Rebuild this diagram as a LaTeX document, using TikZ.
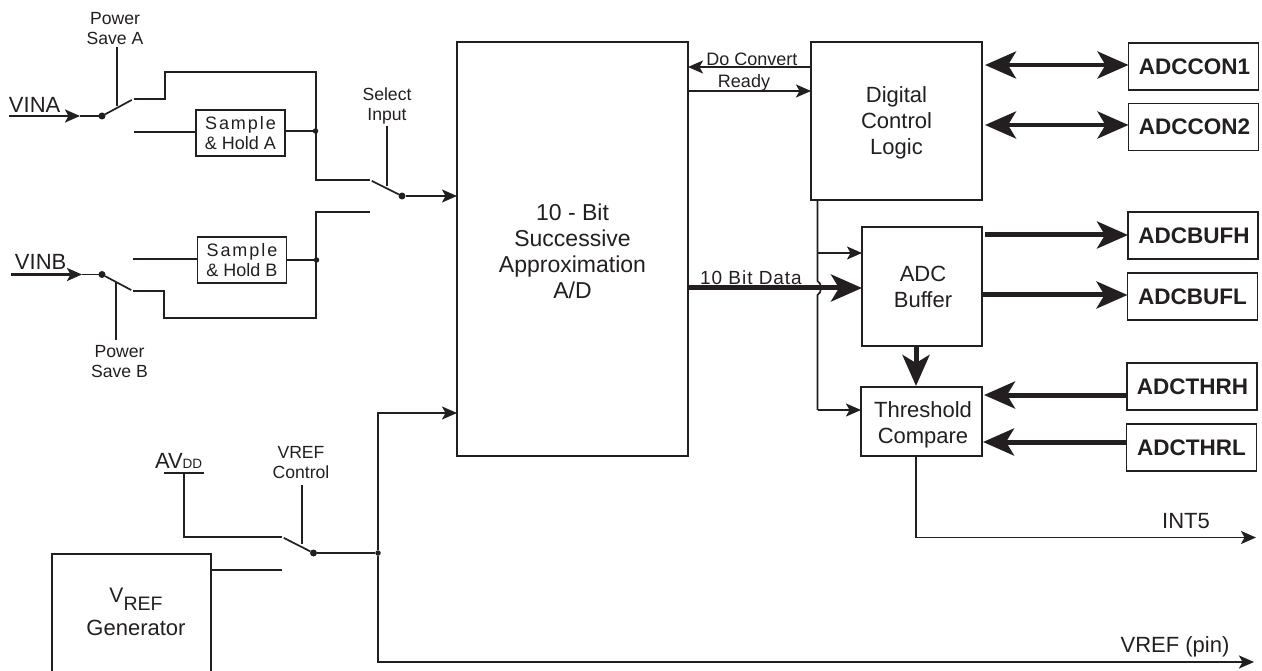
\documentclass[tikz,border=0pt]{standalone}
\usepackage{fontspec}
\setmainfont{Liberation Sans}
\newfontfamily\spacedfont[LetterSpace=11]{Liberation Sans}
\newfontfamily\dataspaced[LetterSpace=5]{Liberation Sans}
\usetikzlibrary{arrows.meta}
\definecolor{ink}{HTML}{231F20}
\newcommand{\fs}[2]{\fontsize{#1}{#2}\selectfont}
\tikzset{
  x=1pt,y=-1pt,
  every node/.style={text=ink,inner sep=0pt,outer sep=0pt},
  wire/.style={draw=ink,line width=1.7pt,line cap=butt,line join=miter},
  sig/.style={wire,-{Stealth[length=15pt,width=13pt,inset=3.5pt]}},
  bus/.style={draw=ink,line width=5pt,-{Stealth[length=31pt,width=27pt,inset=8pt]}},
  dbus/.style={draw=ink,line width=4.5pt,{Stealth[length=31pt,width=27pt,inset=8pt]}-{Stealth[length=31pt,width=27pt,inset=8pt]}},
  block/.style={draw=ink,line width=1.7pt,fill=white,align=center,font=\fs{22}{26}},
  reg/.style={block,font=\fs{22.5}{26}\bfseries,minimum width=130pt,minimum height=47pt},
  sh/.style={block,minimum width=89pt,minimum height=46pt,font=\fs{18}{20}},
  lab/.style={align=center,font=\fs{17.6}{20}},
  jn/.style={circle,fill=ink,draw=none,minimum size=#1},
  jn/.default=7pt
}
\begin{document}
\begin{tikzpicture}
\useasboundingbox (0,0) rectangle (1262,671);
% blocks
\node[block,minimum width=231pt,minimum height=414pt,font=\fs{23}{26}] (main) at (572.5,249) {\rule{0pt}{22pt}10 - Bit\\Successive\\Approximation\\A/D};
\node[block,minimum width=171pt,minimum height=158pt] (dig) at (896.5,121) {\rule{0pt}{20pt}Digital\\Control\\Logic};
\node[block,minimum width=120pt,minimum height=119pt] (buf) at (922,286.5) {\hspace*{2pt}ADC\\\hspace*{2pt}Buffer};
\node[block,minimum width=121pt,minimum height=69pt] (thr) at (921.5,421.5) {\rule{0pt}{22pt}\hspace*{3pt}Threshold\\\hspace*{3pt}Compare};
\node[reg] (con1) at (1193.5,66.5) {\hspace*{2pt}ADCCON1};
\node[reg] (con2) at (1193.5,127) {\hspace*{2pt}ADCCON2};
\node[reg] (bufh) at (1193,235.5) {\hspace*{2pt}ADCBUFH};
\node[reg] (bufl) at (1192.5,296.5) {ADCBUFL};
\node[reg] (thrh) at (1192,386.5) {\hspace*{1pt}ADCTHRH};
\node[reg] (thrl) at (1191.5,447.5) {ADCTHRL};
\node[sh] (sha) at (240.5,133) {{\spacedfont Sample}\\\& Hold A};
\node[sh] (shb) at (242,260) {{\spacedfont Sample}\\\& Hold B};
\draw[wire] (52,680) |- (211,554) -- (211,680);
\node[font=\fs{22}{26}] (genb) at (136,635) [anchor=base] {Generator};
\node[anchor=base] (genv) at (136,602) {\fs{21}{26}V\raisebox{-8pt}{\fs{19.5}{26}REF}};
\coordinate (gen) at (211,570);
% labels
\node[font=\fs{22}{26},anchor=base west] (vina) at (9,113) {VINA};
\node[font=\fs{22}{26},anchor=base west] (vinb) at (15,270) {VINB};
\node[lab] (psa) at (115,29) {Power\\Save A};
\node[lab] (psb) at (119.5,362) {Power\\Save B};
\node[lab] (sel) at (387,105.5) {Select\\Input};
\node[lab] (vctl) at (301,463) {VREF\\Control};
\node[anchor=base west] (avdd) at (155,468) {\fs{22}{26}AV\fs{13.5}{26}DD};
\node[font=\fs{18}{20}] (doc) at (752,59) {Do Convert};
\node[font=\fs{18}{20}] (rdy) at (744,83) {Ready};
\node[anchor=base] (tbd) at (751,285) {\fs{19}{20}\dataspaced 10 Bit Data};
\node[font=\fs{22}{26},anchor=base] (int5) at (1186,528) {INT5};
\node[font=\fs{22}{26},anchor=base] (vpin) at (1175,652.7) {VREF (pin)};
% coordinates
\coordinate (ina0) at (9,116); \coordinate (inb0) at (11,274.5);
\node[jn] (da) at (102,116) {};
\node[jn] (db) at (102,274.5) {};
\node[jn] (ds) at (402,196) {};
\node[jn] (dv) at (313.5,553) {};
\node[jn=5.5pt] (ja) at (315.5,131) {};
\node[jn=5.5pt] (jb) at (316.5,260) {};
\node[jn=5.5pt] (jv) at (378,553) {};
\coordinate (ta1) at (133.5,99); \coordinate (ta2) at (134,132);
\coordinate (tb1) at (133,259); \coordinate (tb2) at (133,291);
\coordinate (ts1) at (370,180); \coordinate (ts2) at (370,212);
\coordinate (tv1) at (282,537); \coordinate (tv2) at (282,570);
\coordinate (ctlA) at (117,47); \coordinate (armA) at (117,106);
\coordinate (ctlB) at (116,340); \coordinate (armB) at (116,282);
\coordinate (ctlS) at (387,126); \coordinate (armS) at (387,186);
\coordinate (ctlV) at (302,485); \coordinate (armV) at (302,544);
\coordinate (avtop) at (184,473);
\coordinate (ctlout) at (817.5,200);
% input side
\draw[sig,line width=2.2pt] (ina0) -- ++(71,0);
\draw[wire] (80,116) -- (da);
\draw[sig,line width=2.2pt] (inb0) -- ++(71,0);
\draw[wire] (82,274.5) -- (db);
\draw[wire,shorten <=2pt] (ta1) -- (da);
\draw[wire,shorten <=2pt] (tb2) -- (db);
\draw[wire] (ctlA) -- (armA);
\draw[wire] (ctlB) -- (armB);
\draw[wire] (ta1) -- (165,99) -- (165,72) -- (316,72) -- (316,180) -- (ts1);
\draw[wire] (ta2) -- (ta2 -| sha.west);
\draw[wire] (sha.east |- ja) -- (ja);
\draw[wire] (tb1) -- (tb1 -| shb.west);
\draw[wire] (shb.east |- jb) -- (jb);
\draw[wire] (tb2) -- (164,291) -- (164,318) -- (316,318) -- (316,212) -- (ts2);
% select switch
\draw[wire,shorten <=2pt] (ts1) -- (ds);
\draw[wire] (ctlS) -- (armS);
\draw[sig] (ds) -- (ds -| main.west);
% vref
\draw[wire] (164,473) -- (204,473);
\draw[wire] (avtop) |- (tv1);
\draw[wire] (gen) -- (tv2);
\draw[wire,shorten <=2pt] (tv1) -- (dv);
\draw[wire] (ctlV) -- (armV);
\draw[wire] (dv) -- (jv);
\coordinate (vrt) at (378,413);
\draw[sig] (jv) -- (vrt) -- (vrt -| main.west);
\coordinate (vend) at (1254,662);
\draw[sig,line width=2.1pt] (jv) |- (vend);
% control logic
\coordinate (docy) at (0,67); \coordinate (rdyy) at (0,91);
\draw[sig] (dig.west |- docy) -- (main.east |- docy);
\draw[sig] (main.east |- rdyy) -- (dig.west |- rdyy);
\draw[wire] (ctlout) -- (817.5,281) .. controls (822,283) and (822,293) .. (817.5,295) -- (817.5,410);
\coordinate (brb) at (817.5,253);
\draw[sig] (brb) -- (brb -| buf.west);
\coordinate (brt) at (817.5,410);
\draw[sig] (brt) -- (brt -| thr.west);
% buses
\coordinate (dty) at (0,288);
\draw[bus] (main.east |- dty) -- (dty -| buf.west);
\draw[bus,shorten >=1pt] (buf.south -| 916,0) -- (thr.north -| 916,0);
\coordinate (y1) at (0,65); \coordinate (y2) at (0,125);
\draw[dbus,shorten <=3pt] (dig.east |- y1) -- (y1 -| con1.west);
\draw[dbus,shorten <=3pt] (dig.east |- y2) -- (y2 -| con2.west);
\coordinate (y3) at (0,235); \coordinate (y4) at (0,295);
\draw[bus] (985,235) -- (y3 -| bufh.west);
\draw[bus] (y4 -| buf.east) -- (y4 -| bufl.west);
\coordinate (y5) at (0,395); \coordinate (y6) at (0,442);
\draw[bus,shorten >=2pt] (y5 -| thrh.west) -- (y5 -| thr.east);
\draw[bus,shorten >=1pt] (y6 -| thrl.west) -- (y6 -| thr.east);
% int5
\coordinate (int5c) at (916,537.5);
\coordinate (int5e) at (1256,537.5);
\draw[sig] (thr.south -| int5c) -- (int5c) -- (int5e);
\end{tikzpicture}
\end{document}
